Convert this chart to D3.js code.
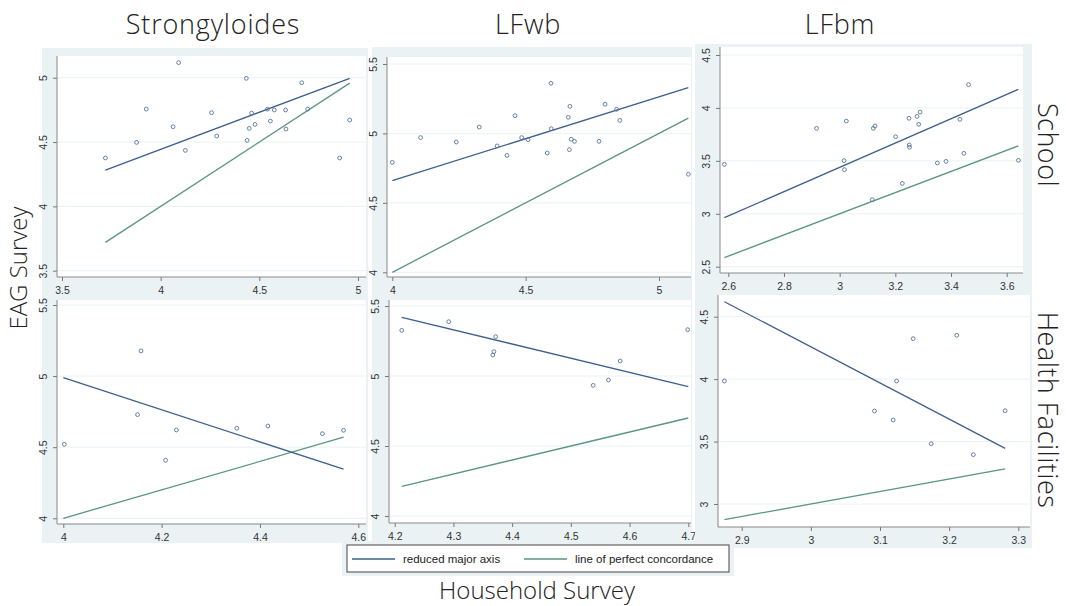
<!DOCTYPE html>
<html>
<head>
<meta charset="utf-8">
<script src="https://cdn.jsdelivr.net/npm/d3@7"></script>
<style>
  body { margin: 0; background: #fff; }
  svg { display: block; }
  .tick text { font-family: "Liberation Sans", Arial, sans-serif; font-size: 10.5px; fill: #333; }
  .tick line { stroke: #777; }
  .ttl { font-family: "Open Sans", "Noto Sans", sans-serif; font-weight: 300; fill: #222; }
</style>
</head>
<body>
<svg id="chart" width="1066" height="606"></svg>
<script>
// column / row headings
const columns = ["Strongyloides", "LFwb", "LFbm"];
const rows = ["School", "Health Facilities"];
const legendLabels = ["reduced major axis", "line of perfect concordance"];

// School, Strongyloides
const schStrongPts = [[3.72,4.376],[3.878,4.497],[3.927,4.756],[4.063,4.619],[4.091,5.117],[4.125,4.435],
  [4.258,4.728],[4.284,4.547],[4.434,4.995],[4.438,4.513],[4.449,4.606],[4.461,4.725],[4.478,4.637],
  [4.541,4.756],[4.556,4.663],[4.576,4.749],[4.633,4.749],[4.635,4.601],[4.715,4.961],[4.745,4.756],
  [4.907,4.376],[4.958,4.671]];
const schStrongRma = [[3.72,4.282],[4.958,4.995]];
// School, LFwb
const schWbPts = [[4.0,4.792],[4.106,4.970],[4.24,4.938],[4.326,5.046],[4.393,4.910],[4.43,4.842],
  [4.46,5.128],[4.485,4.970],[4.509,4.955],[4.581,4.859],[4.595,5.361],[4.596,5.034],[4.66,5.116],
  [4.664,4.883],[4.666,5.195],[4.671,4.958],[4.683,4.943],[4.775,4.943],[4.798,5.210],[4.841,5.174],
  [4.853,5.094],[5.11,4.706]];
const schWbRma = [[4.0,4.66],[5.11,5.33]];
// School, LFbm
const schBmPts = [[2.586,3.467],[2.917,3.807],[3.016,3.502],[3.017,3.417],[3.024,3.876],[3.117,3.133],
  [3.121,3.807],[3.127,3.829],[3.201,3.728],[3.225,3.287],[3.249,3.902],[3.25,3.65],[3.251,3.628],
  [3.278,3.92],[3.284,3.845],[3.289,3.961],[3.351,3.48],[3.382,3.495],[3.432,3.892],[3.446,3.571],
  [3.463,4.22],[3.642,3.505]];
const schBmRma = [[2.586,2.963],[3.642,4.176]];
// Health facilities, Strongyloides
const hfStrongPts = [[4.002,4.52],[4.151,4.729],[4.158,5.177],[4.208,4.408],[4.23,4.621],
  [4.353,4.633],[4.416,4.649],[4.527,4.595],[4.57,4.619]];
const hfStrongRma = [[4.0,4.989],[4.57,4.345]];
// Health facilities, LFwb
const hfWbPts = [[4.212,5.326],[4.292,5.388],[4.367,5.15],[4.369,5.174],[4.372,5.281],
  [4.538,4.933],[4.564,4.971],[4.584,5.107],[4.699,5.331]];
const hfWbRma = [[4.212,5.419],[4.7,4.924]];
// Health facilities, LFbm
const hfBmPts = [[2.875,3.985],[3.092,3.745],[3.119,3.673],[3.124,3.985],[3.148,4.324],
  [3.174,3.483],[3.211,4.351],[3.235,3.395],[3.281,3.747]];
const hfBmRma = [[2.875,4.62],[3.281,3.446]];

// tick labels
const xTicks = [[3.5,4,4.5,5],[4,4.5,5],[2.6,2.8,3,3.2,3.4,3.6],[4,4.2,4.4,4.6],[4.2,4.3,4.4,4.5,4.6,4.7],[2.9,3,3.1,3.2,3.3]];
const yTicks = [[3.5,4,4.5,5],[4,4.5,5,5.5],[2.5,3,3.5,4,4.5],[4,4.5,5,5.5],[4,4.5,5,5.5],[3,3.5,4,4.5]];

const panelData = [
  {pts: schStrongPts, rma: schStrongRma}, {pts: schWbPts, rma: schWbRma}, {pts: schBmPts, rma: schBmRma},
  {pts: hfStrongPts, rma: hfStrongRma}, {pts: hfWbPts, rma: hfWbRma}, {pts: hfBmPts, rma: hfBmRma}
];

// layout of the six pasted panels (frame, plot area, scale mapping)
const layout = [
  {frame:[42,48,368,298], plot:[57,56,366,277], xd:[3.5,5], xr:[62,358], yd:[3.5,5], yr:[270.7,77.7]},
  {frame:[372,47,692,296], plot:[387,57,691,277], xd:[4,5], xr:[392.3,659], yd:[4,5.5], yr:[272.3,64]},
  {frame:[695,44,1032,296], plot:[720,47,1023,273], xd:[2.6,3.6], xr:[728.3,1006.7], yd:[2.5,4.5], yr:[266.7,55]},
  {frame:[42,298,368,543], plot:[57,300,366,524], xd:[4,4.6], xr:[63.3,358.3], yd:[4,5.5], yr:[518.3,305]},
  {frame:[372,296,692,548], plot:[389,300,691,523], xd:[4.2,4.7], xr:[394.7,688.3], yd:[4,5.5], yr:[516,306]},
  {frame:[695,292,1032,548], plot:[718,295,1030,527], xd:[2.9,3.3], xr:[741.7,1018.3], yd:[3,4.5], yr:[504,316.7]}
];

const navy = "#3d5f8c", green = "#5a9583", bg = "#eaf2f3";
const svg = d3.select("#chart");
const fmt = d => String(+d.toFixed(1));

layout.forEach(function(L, i) {
  const g = svg.append("g");
  const f = L.frame, p = L.plot;
  g.append("rect").attr("x", f[0]).attr("y", f[1]).attr("width", f[2]-f[0]).attr("height", f[3]-f[1]).attr("fill", bg);
  g.append("rect").attr("x", p[0]).attr("y", p[1]).attr("width", p[2]-p[0]).attr("height", p[3]-p[1]).attr("fill", "#fff");

  const x = d3.scaleLinear().domain(L.xd).range(L.xr);
  const y = d3.scaleLinear().domain(L.yd).range(L.yr);

  // grid
  g.selectAll("line.grid").data(yTicks[i]).enter().append("line")
    .attr("x1", p[0]).attr("x2", p[2]).attr("y1", d => y(d)).attr("y2", d => y(d))
    .attr("stroke", bg).attr("stroke-width", 1);

  // axes
  const xa = g.append("g").attr("transform", "translate(0," + p[3] + ")")
    .call(d3.axisBottom(x).tickValues(xTicks[i]).tickFormat(fmt).tickSize(4).tickSizeOuter(0));
  xa.select(".domain").remove();
  xa.selectAll("text").attr("dy", "0.95em");
  const ya = g.append("g").attr("transform", "translate(" + p[0] + ",0)")
    .call(d3.axisLeft(y).tickValues(yTicks[i]).tickFormat(fmt).tickSize(4).tickSizeOuter(0));
  ya.select(".domain").remove();
  ya.selectAll("text").attr("x", 0).attr("dy", 0).attr("text-anchor", "middle")
    .attr("transform", "translate(-10,0) rotate(-90)");
  g.append("line").attr("x1", p[0]).attr("x2", p[2]).attr("y1", p[3]).attr("y2", p[3]).attr("stroke", "#888");
  g.append("line").attr("x1", p[0]).attr("x2", p[0]).attr("y1", p[1]).attr("y2", p[3]).attr("stroke", "#888");

  const D = panelData[i];
  const xe = d3.extent(D.pts, d => d[0]);
  const xs = [Math.min(xe[0], D.rma[0][0]), Math.max(xe[1], D.rma[1][0])];
  const line = d3.line().x(d => x(d[0])).y(d => y(d[1]));

  // line of perfect concordance (y = x)
  g.append("path").datum(xs.map(v => [v, v])).attr("d", line)
    .attr("fill", "none").attr("stroke", green).attr("stroke-width", 1.3);
  // reduced major axis
  g.append("path").datum(D.rma).attr("d", line)
    .attr("fill", "none").attr("stroke", navy).attr("stroke-width", 1.3);

  g.selectAll("circle").data(D.pts).enter().append("circle")
    .attr("cx", d => x(d[0])).attr("cy", d => y(d[1])).attr("r", 1.9)
    .attr("fill", "none").attr("stroke", "#56749a").attr("stroke-width", 0.9);
});

// column titles
const colX = [213, 528, 840];
svg.selectAll("text.col").data(columns).enter().append("text").attr("class", "ttl")
  .attr("x", (d, i) => colX[i]).attr("y", 34).attr("text-anchor", "middle")
  .attr("font-size", 27).attr("letter-spacing", 0.8).text(d => d);

// row titles (right side)
const rowY = [145, 410];
svg.selectAll("text.row").data(rows).enter().append("text").attr("class", "ttl")
  .attr("text-anchor", "middle").attr("font-size", 27).attr("letter-spacing", 0.5)
  .attr("transform", (d, i) => "translate(1038," + rowY[i] + ") rotate(90)").text(d => d);

svg.append("text").attr("class", "ttl").attr("text-anchor", "middle").attr("font-size", 24)
  .attr("transform", "translate(27,268) rotate(-90)").text("EAG Survey");
svg.append("text").attr("class", "ttl").attr("text-anchor", "middle").attr("font-size", 24)
  .attr("x", 537).attr("y", 599).text("Household Survey");

// legend
const lg = svg.append("g");
lg.append("rect").attr("x", 342).attr("y", 541).attr("width", 392).attr("height", 35).attr("fill", bg);
lg.append("rect").attr("x", 347).attr("y", 545).attr("width", 382).attr("height", 27)
  .attr("fill", "#fff").attr("stroke", "#444").attr("stroke-width", 1);
const legX = [352, 524];
const legCol = [navy, green];
legendLabels.forEach(function(t, i) {
  lg.append("line").attr("x1", legX[i]).attr("x2", legX[i] + 43).attr("y1", 559).attr("y2", 559)
    .attr("stroke", legCol[i]).attr("stroke-width", 1.3);
  lg.append("text").attr("x", legX[i] + 51).attr("y", 563)
    .attr("font-family", "'Liberation Sans Narrow', 'Liberation Sans', Arial, sans-serif")
    .attr("font-size", 11.5).attr("fill", "#222").text(t);
});
</script>
</body>
</html>
